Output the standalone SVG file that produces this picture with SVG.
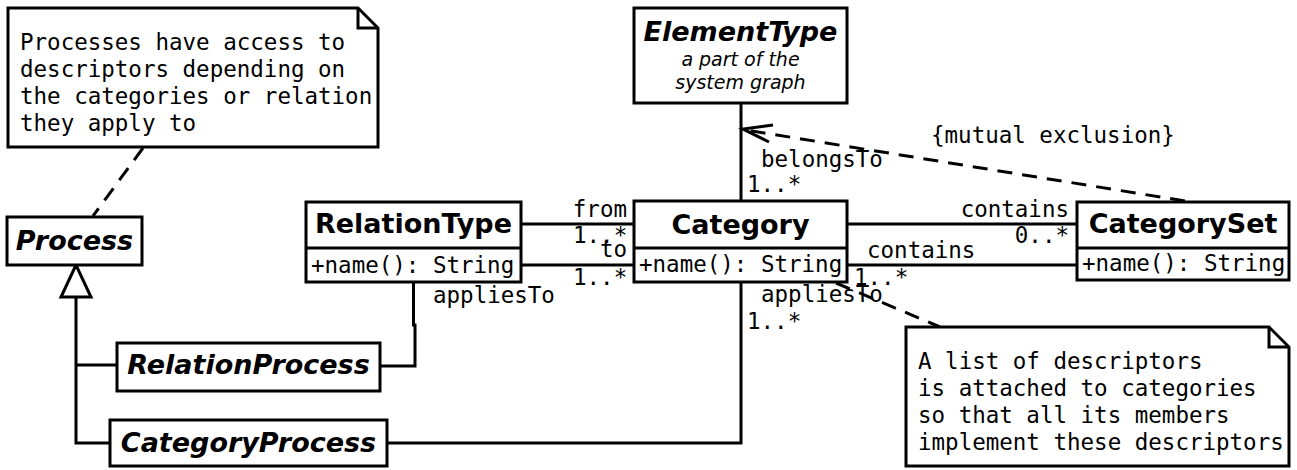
<svg xmlns="http://www.w3.org/2000/svg" width="1297" height="470" viewBox="0 0 1297 470">
<style>
.box{fill:#fff;stroke:#000;stroke-width:3}
.ln{fill:none;stroke:#000;stroke-width:3}
.dash{fill:none;stroke:#000;stroke-width:3;stroke-dasharray:15,10}
.title{font-family:"DejaVu Sans","Liberation Sans",sans-serif;font-weight:bold;font-size:27px;text-anchor:middle}
.ital{font-style:italic}
.sub{font-family:"DejaVu Sans","Liberation Sans",sans-serif;font-style:italic;font-size:19px;text-anchor:middle}
.mono{font-family:"DejaVu Sans Mono","Liberation Mono",monospace;font-size:22.5px}
.end{text-anchor:end}
</style>
<rect width="1297" height="470" fill="#fff"/>
<g id="connectors">
  <line class="dash" x1="143" y1="148" x2="93" y2="216"/>
  <polygon points="76,265 61,297 91,297" class="box"/>
  <polyline class="ln" points="76,297 76,443 110,443"/>
  <line class="ln" x1="76" y1="365" x2="117" y2="365"/>
  <polyline class="ln" points="413.5,282 413.5,325 415,325 415,366 380,366"/>
  <polyline class="ln" points="741,282 741,443 387,443"/>
  <line class="ln" x1="521" y1="224" x2="634" y2="224"/>
  <line class="ln" x1="521" y1="265" x2="634" y2="265"/>
  <line class="ln" x1="741" y1="104" x2="741" y2="201"/>
  <line class="ln" x1="848" y1="224" x2="1076" y2="224"/>
  <line class="ln" x1="848" y1="265" x2="1076" y2="265"/>
  <line class="dash" x1="1185" y1="201" x2="746" y2="130"/>
  <polyline class="ln" points="773,125 743,129 769,142"/>
  <line class="dash" x1="836" y1="283" x2="940" y2="327"/>
  <text class="mono end" x="627" y="217">from</text>
  <text class="mono" x="573" y="243">1..*</text>
  <text class="mono end" x="627" y="257">to</text>
  <text class="mono" x="573" y="285">1..*</text>
  <text class="mono" x="761" y="167">belongsTo</text>
  <text class="mono" x="747" y="192">1..*</text>
  <text class="mono end" x="1069" y="217">contains</text>
  <text class="mono end" x="1069" y="243">0..*</text>
  <text class="mono" x="867" y="258">contains</text>
  <text class="mono" x="854" y="285">1..*</text>
  <text class="mono" x="761" y="302">appliesTo</text>
  <text class="mono" x="747" y="329">1..*</text>
  <text class="mono" x="433" y="303">appliesTo</text>
  <text class="mono" x="931" y="143">{mutual exclusion}</text>
</g>
<g id="note1">
  <path class="box" d="M8,8 H358 L378,28 V147 H8 Z"/>
  <path class="ln" d="M358,8 V28 H378"/>
  <text class="mono" x="20" y="50">Processes have access to</text>
  <text class="mono" x="20" y="77">descriptors depending on</text>
  <text class="mono" x="20" y="104">the categories or relation</text>
  <text class="mono" x="20" y="131">they apply to</text>
</g>
<g id="Process">
  <rect class="box" x="7" y="217" width="135" height="48"/>
  <text class="title ital" x="74.5" y="250">Process</text>
</g>
<g id="RelationProcess">
  <rect class="box" x="117" y="343" width="263" height="48"/>
  <text class="title ital" x="248.5" y="374">RelationProcess</text>
</g>
<g id="CategoryProcess">
  <rect class="box" x="110" y="420" width="277" height="46"/>
  <text class="title ital" x="248.5" y="452">CategoryProcess</text>
</g>
<g id="ElementType">
  <rect class="box" x="634" y="8" width="213" height="95"/>
  <text class="title ital" x="740.5" y="41">ElementType</text>
  <text class="sub" x="740.5" y="66">a part of the</text>
  <text class="sub" x="740.5" y="89">system graph</text>
</g>
<g id="RelationType">
  <rect class="box" x="306" y="202" width="215" height="80"/>
  <line class="ln" x1="306" y1="248" x2="521" y2="248"/>
  <text class="title" x="413.5" y="233">RelationType</text>
  <text class="mono" x="311" y="273">+name(): String</text>
</g>
<g id="Category">
  <rect class="box" x="634" y="201" width="213" height="81"/>
  <line class="ln" x1="634" y1="248" x2="847" y2="248"/>
  <text class="title" x="740.5" y="234">Category</text>
  <text class="mono" x="639" y="272">+name(): String</text>
</g>
<g id="CategorySet">
  <rect class="box" x="1077" y="202" width="212" height="78"/>
  <line class="ln" x1="1077" y1="248" x2="1289" y2="248"/>
  <text class="title" x="1183" y="233">CategorySet</text>
  <text class="mono" x="1082" y="271">+name(): String</text>
</g>
<g id="note2">
  <path class="box" d="M906,327 H1269 L1289,347 V466 H906 Z"/>
  <path class="ln" d="M1269,327 V347 H1289"/>
  <text class="mono" x="918" y="369">A list of descriptors</text>
  <text class="mono" x="918" y="396">is attached to categories</text>
  <text class="mono" x="918" y="423">so that all its members</text>
  <text class="mono" x="918" y="450">implement these descriptors</text>
</g>
</svg>
